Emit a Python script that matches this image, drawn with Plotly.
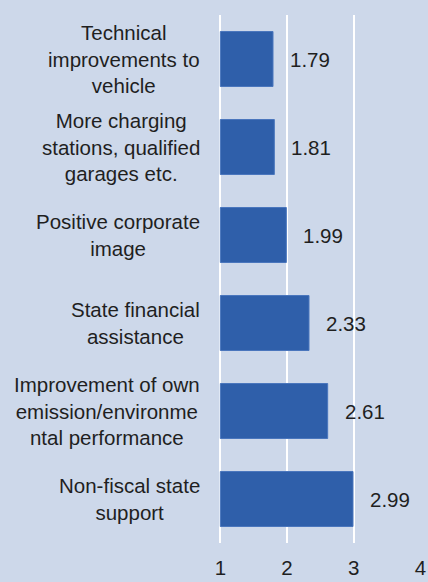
import plotly.graph_objects as go

categories = [
    "Technical<br>improvements to<br>vehicle",
    "More charging<br>stations, qualified<br>garages etc.",
    "Positive corporate<br>image",
    "State financial<br>assistance",
    "Improvement of own<br>emission/environme<br>ntal performance",
    "Non-fiscal state<br>support",
]
values = [1.79, 1.81, 1.99, 2.33, 2.61, 2.99]
tick_vals = [1, 2, 3, 4]
tick_text = ["1", "2", "3", "4"]

FONT = "Liberation Sans, Arial, sans-serif"
TXT = "#1f1f1f"
BG = "#cdd8ea"
BAR = "#2f5faa"

fig = go.Figure()
fig.add_trace(go.Bar(
    y=categories,
    x=[v - 1 for v in values],
    base=1,
    orientation="h",
    marker=dict(color=BAR, line=dict(color="#4a76bd", width=1)),
    hoverinfo="skip",
))

annotations = []
for c, v in zip(categories, values):
    annotations.append(dict(
        x=v, y=c, xref="x", yref="y", text=f"{v:.2f}",
        xanchor="left", yanchor="middle", xshift=15, showarrow=False,
        font=dict(family=FONT, size=20.5, color=TXT),
    ))
    annotations.append(dict(
        x=0, y=c, xref="paper", yref="y", text=c,
        xanchor="right", yanchor="middle", xshift=-17, showarrow=False,
        align="center",
        font=dict(family=FONT, size=20.5, color=TXT),
    ))

fig.update_layout(
    width=428, height=582,
    margin=dict(l=219, r=7, t=15, b=39, autoexpand=False),
    paper_bgcolor=BG, plot_bgcolor=BG,
    showlegend=False,
    bargap=0.375,
    annotations=annotations,
    font=dict(family=FONT, size=20, color=TXT),
    xaxis=dict(
        range=[0.98, 4.01],
        tickvals=tick_vals, ticktext=tick_text,
        showgrid=True, gridcolor="white", gridwidth=2,
        zeroline=False, showline=False, ticks="",
        automargin=False,
        ticklabelstandoff=10,
        tickfont=dict(family=FONT, size=20.5, color=TXT),
    ),
    yaxis=dict(
        categoryorder="array", categoryarray=categories,
        autorange="reversed", automargin=False,
        showticklabels=False, showgrid=False, zeroline=False, ticks="",
    ),
)

fig.write_html(
    "out.html",
    config={"displayModeBar": False},
    post_script="document.body.style.margin='0';document.body.style.overflow='hidden';",
)
